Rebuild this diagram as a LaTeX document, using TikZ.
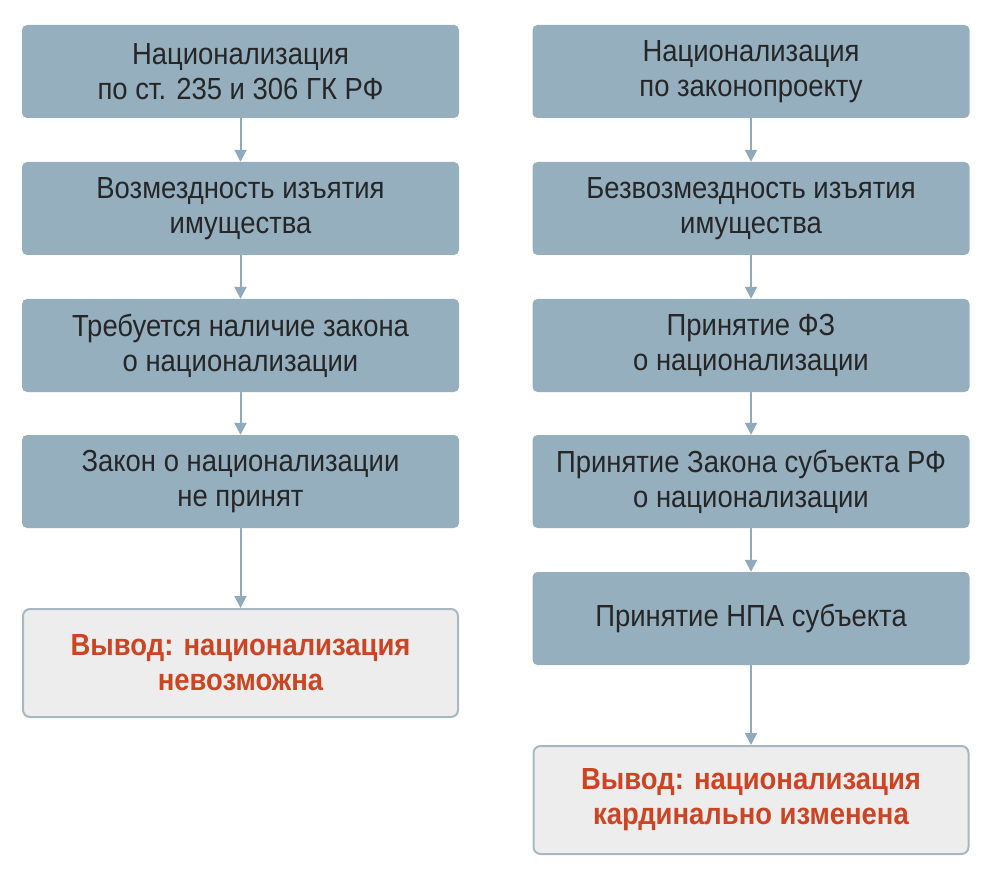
\documentclass[tikz,border=0pt]{standalone}
\usepackage{fontspec}
\setmainfont{Liberation Sans}[FakeStretch=0.9]
\usetikzlibrary{arrows.meta}
\definecolor{boxc}{HTML}{95AFBF}
\definecolor{arr}{HTML}{8FAABB}
\definecolor{concl}{HTML}{EDEDED}
\definecolor{conb}{HTML}{A9B7C0}
\definecolor{redt}{HTML}{CC4422}
\begin{document}
\begin{tikzpicture}[x=1pt,y=-1pt,
 box/.style={fill=boxc,rounded corners=5pt,minimum width=437pt,minimum height=93pt,align=center,font=\fontsize{30.5}{35}\selectfont,text=black!85,inner sep=0pt},
 con/.style={fill=concl,draw=conb,line width=2pt,rounded corners=7pt,minimum width=435pt,minimum height=108pt,align=center,font=\fontsize{30.5}{35}\selectfont\bfseries,text=redt,inner sep=0pt},
 ar/.style={draw=arr,line width=2pt,-{Triangle[length=12pt,width=12pt]}}]
\useasboundingbox (0,0) rectangle (996,877);
\node[box] (l1) at (240.5,71.5) {Национализация\\по ст. 235 и 306 ГК РФ};
\node[box] (l2) at (240.5,208.5) {Возмездность изъятия\\имущества};
\node[box] (l3) at (240.5,345.5) {Требуется наличие закона\\о национализации};
\node[box] (l4) at (240.5,481.5) {Закон о национализации\\не принят};
\node[con] (l5) at (240.5,663) {Вывод: национализация\\невозможна};
\node[box] (r1) at (751,71.5) {Национализация\\по законопроекту};
\node[box] (r2) at (751,208.5) {Безвозмездность изъятия\\имущества};
\node[box] (r3) at (751,345.5) {Принятие ФЗ\\о национализации};
\node[box] (r4) at (751,481.5) {Принятие Закона субъекта РФ\\о национализации};
\node[box] (r5) at (751,618.5) {Принятие НПА субъекта};
\node[con] (r6) at (751,800) {Вывод: национализация\\кардинально изменена};
\foreach \a/\b in {l1/l2,l2/l3,l3/l4,l4/l5,r1/r2,r2/r3,r3/r4,r4/r5,r5/r6}
 \draw[ar] (\a.south) -- (\b.north);
\end{tikzpicture}
\end{document}
